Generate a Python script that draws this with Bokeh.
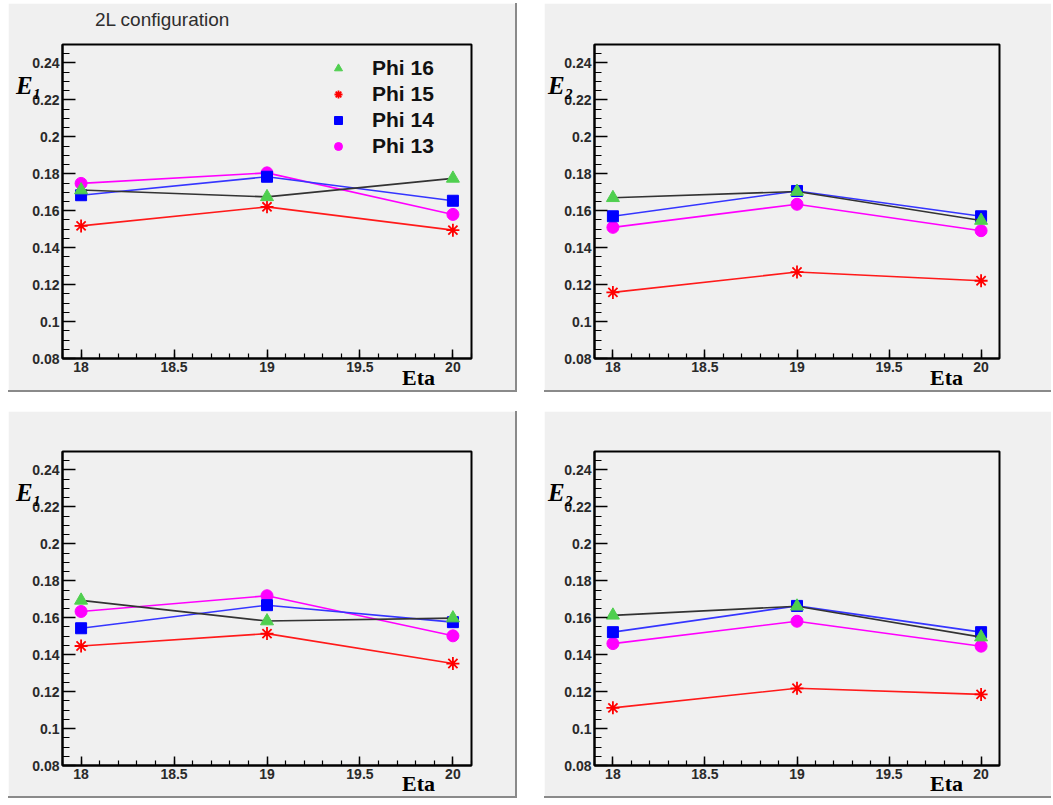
import json
import numpy as np
from bokeh.plotting import figure
from bokeh.models import (FixedTicker, CustomJSTickFormatter, Legend,
                          LegendItem, Spacer, Range1d, LinearAxis)
from bokeh.layouts import row, column
from bokeh.embed import file_html
from bokeh.resources import INLINE

# ---------------- data ----------------
eta = [18, 19, 20]
series_labels = ["Phi 16", "Phi 15", "Phi 14", "Phi 13"]

# top-left: E1
e1a_phi16 = [0.1712, 0.1675, 0.1775]
e1a_phi15 = [0.1518, 0.1621, 0.1495]
e1a_phi14 = [0.1684, 0.1784, 0.1654]
e1a_phi13 = [0.1748, 0.1805, 0.1580]
# top-right: E2
e2a_phi16 = [0.1670, 0.1704, 0.1547]
e2a_phi15 = [0.1158, 0.1268, 0.1221]
e2a_phi14 = [0.1570, 0.1707, 0.1570]
e2a_phi13 = [0.1510, 0.1635, 0.1492]
# bottom-left: E1
e1b_phi16 = [0.1694, 0.1582, 0.1598]
e1b_phi15 = [0.1447, 0.1514, 0.1352]
e1b_phi14 = [0.1543, 0.1668, 0.1576]
e1b_phi13 = [0.1634, 0.1719, 0.1502]
# bottom-right: E2
e2b_phi16 = [0.1613, 0.1662, 0.1495]
e2b_phi15 = [0.1112, 0.1218, 0.1185]
e2b_phi14 = [0.1522, 0.1664, 0.1522]
e2b_phi13 = [0.1460, 0.1581, 0.1446]

x_ticks = [18, 18.5, 19, 19.5, 20]
y_ticks = [0.08, 0.10, 0.12, 0.14, 0.16, 0.18, 0.20, 0.22, 0.24]
x_minor = [round(v, 2) for v in np.arange(17.9, 20.11, 0.1)]
y_minor = [round(v, 3) for v in np.arange(0.08, 0.2501, 0.005)]

X0, X1 = 17.9, 20.1
Y0, Y1 = 0.08, 0.25

PAD = "#f0f0f0"
SANS = "Liberation Sans"
SERIF = "Liberation Serif"

styles_series = {
    "Phi 16": dict(line="#333333", fill="#4fcf4f", marker="triangle", size=13),
    "Phi 15": dict(line="#ff1a1a", fill="#ff0000", marker="asterisk", size=13),
    "Phi 14": dict(line="#3535ff", fill="#0000ff", marker="square", size=11),
    "Phi 13": dict(line="#ff00ff", fill="#ff00ff", marker="circle", size=12),
}

fmt_code = "return String(Math.round(tick*1000)/1000);"


def text_axis(text, tick, font, style, size, color, standoff):
    return LinearAxis(
        ticker=FixedTicker(ticks=[tick], minor_ticks=[]),
        formatter=CustomJSTickFormatter(code="return %s;" % json.dumps(text)),
        axis_line_color=None, major_tick_line_color=None,
        minor_tick_line_color=None, major_tick_in=0, major_tick_out=0,
        minor_tick_in=0, minor_tick_out=0, major_label_standoff=standoff,
        major_label_text_font=font, major_label_text_font_style=style,
        major_label_text_font_size=size, major_label_text_color=color)


def make_panel(width, height, left, right, top, bottom, sub, values,
               eta_standoff, border_right=True, title=None, legend=False):
    p = figure(width=width, height=height,
               x_range=Range1d(X0, X1), y_range=Range1d(Y0, Y1),
               output_backend="svg", toolbar_location=None,
               min_border_left=left, min_border_right=right,
               min_border_top=top, min_border_bottom=bottom,
               background_fill_color=PAD, border_fill_color=PAD)
    st = {"border-bottom": "2px solid #8a8a8a"}
    if border_right:
        st["border-right"] = "2px solid #8a8a8a"
    p.styles = st
    p.grid.visible = False
    p.outline_line_color = "black"
    p.outline_line_width = 2

    p.xaxis.ticker = FixedTicker(ticks=x_ticks, minor_ticks=x_minor)
    p.yaxis.ticker = FixedTicker(ticks=y_ticks, minor_ticks=y_minor)
    for ax in (p.xaxis[0], p.yaxis[0]):
        ax.formatter = CustomJSTickFormatter(code=fmt_code)
        ax.major_label_text_font = SANS
        ax.major_label_text_font_style = "bold"
        ax.major_label_text_font_size = "14px"
        ax.major_label_text_color = "#2a2a2a"
        ax.major_tick_out = 0
        ax.minor_tick_out = 0
        ax.axis_line_color = "black"
        ax.axis_line_width = 2
        ax.major_tick_line_color = "black"
        ax.major_tick_line_width = 1.5
        ax.minor_tick_line_color = "black"
        ax.minor_tick_line_width = 1.2
    p.xaxis.major_tick_in = 9
    p.xaxis.minor_tick_in = 5
    p.yaxis.major_tick_in = 13
    p.yaxis.minor_tick_in = 7
    p.xaxis.major_label_standoff = 3
    p.yaxis.major_label_standoff = 3

    fw = width - left - right
    fh = height - top - bottom

    def dx(px):
        return X0 + px / fw * (X1 - X0)

    def dy(px):
        return Y1 - px / fh * (Y1 - Y0)

    renderers = {}
    for name in ["Phi 13", "Phi 14", "Phi 15", "Phi 16"]:
        s = styles_series[name]
        vals = values[name]
        p.line(eta, vals, line_color=s["line"], line_width=1.6)
        if s["marker"] == "asterisk":
            r = p.scatter(eta, vals, marker="asterisk", size=s["size"],
                          line_color=s["fill"], line_width=1.8)
        else:
            r = p.scatter(eta, vals, marker=s["marker"], size=s["size"],
                          fill_color=s["fill"], line_color=s["fill"])
        renderers[name] = r

    # axis titles drawn as single-tick label axes outside the frame
    p.add_layout(text_axis("E" + sub, dy(41), SERIF, "bold italic", "25px",
                           "black", -12), "left")
    p.add_layout(text_axis("Eta", dx(fw - 53), SERIF, "bold", "22px",
                           "black", eta_standoff), "below")
    if title:
        p.add_layout(text_axis(title, dx(100), SANS, "normal", "19px",
                               "#2e2e2e", 15), "above")
    if legend:
        items = [LegendItem(label=n, renderers=[renderers[n]]) for n in series_labels]
        lg = Legend(items=items, location=(266, 199),
                    label_text_font=SANS, label_text_font_style="bold",
                    label_text_font_size="21px", label_text_color="#111111",
                    glyph_width=20, glyph_height=26, label_height=26,
                    label_standoff=24, spacing=0, padding=0, margin=0,
                    background_fill_alpha=0, border_line_alpha=0)
        p.add_layout(lg)
    return p


p1 = make_panel(509, 389, 54, 46, 41, 34, "\u2081",
                {"Phi 16": e1a_phi16, "Phi 15": e1a_phi15,
                 "Phi 14": e1a_phi14, "Phi 13": e1a_phi13},
                eta_standoff=-10, border_right=True,
                title="2L configuration", legend=True)
p2 = make_panel(507, 389, 50, 52, 41, 34, "\u2082",
                {"Phi 16": e2a_phi16, "Phi 15": e2a_phi15,
                 "Phi 14": e2a_phi14, "Phi 13": e2a_phi13},
                eta_standoff=-10, border_right=False)
p3 = make_panel(509, 387, 54, 46, 40, 33, "\u2081",
                {"Phi 16": e1b_phi16, "Phi 15": e1b_phi15,
                 "Phi 14": e1b_phi14, "Phi 13": e1b_phi13},
                eta_standoff=-11, border_right=True)
p4 = make_panel(507, 387, 50, 52, 40, 33, "\u2082",
                {"Phi 16": e2b_phi16, "Phi 15": e2b_phi15,
                 "Phi 14": e2b_phi14, "Phi 13": e2b_phi13},
                eta_standoff=-11, border_right=False)

top = row(Spacer(width=8), p1, Spacer(width=27), p2)
bottom = row(Spacer(width=8), p3, Spacer(width=27), p4)
layout = column(Spacer(height=3), top, Spacer(height=19), bottom)

open("out.html", "w").write(file_html(layout, INLINE))
